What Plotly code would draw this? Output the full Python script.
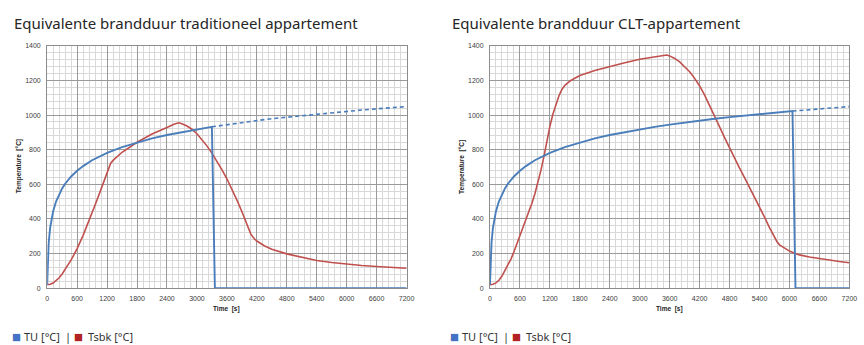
import plotly.graph_objects as go

# ---------------- data ----------------
# Standard fire curve TU [°C] (time in s)
tu_t = [0, 15, 30, 60, 90, 120, 180, 240, 300, 360, 420, 480, 600, 720, 900, 1080, 1200,
        1500, 1800, 2100, 2400, 2700, 3000, 3300, 3600, 3900, 4200, 4500, 4800, 5100,
        5400, 5700, 6000, 6060, 6300, 6600, 6900, 7200]
tu_v = [20, 185, 261, 349, 404, 445, 502, 544, 576, 603, 626, 645, 678, 705, 739, 766, 781,
        815, 842, 865, 885, 902, 918, 932, 945, 957, 968, 979, 988, 997,
        1006, 1014, 1022, 1023, 1029, 1036, 1043, 1049]

# end of the fire (TU drops to zero) per case
tu_end_trad = [3300, 3360]
tu_end_clt = [6060, 6120]

# Tsbk [°C] - traditional apartment
trad_t = [0, 60, 120, 180, 240, 300, 360, 420, 480, 540, 600, 720, 840, 960, 1080, 1200, 1270,
          1320, 1500, 1800, 2100, 2400, 2550, 2640, 2700, 2800, 2900, 3000, 3100, 3200, 3300,
          3400, 3500, 3600, 3700, 3800, 3900, 4000, 4080, 4150, 4200, 4350, 4500, 4800, 5100,
          5400, 5700, 6000, 6300, 6600, 6900, 7200]
trad_v = [20, 22, 29, 42, 60, 82, 107, 134, 163, 195, 228, 305, 390, 480, 572, 663, 720,
          738, 785, 843, 890, 928, 948, 955, 950, 937, 918, 892, 860, 822, 780,
          735, 685, 632, 575, 510, 443, 375, 312, 285, 272, 245, 225, 198, 177,
          160, 148, 138, 131, 125, 120, 115]

# Tsbk [°C] - CLT apartment
clt_t = [0, 60, 120, 180, 240, 300, 360, 420, 480, 540, 600, 660, 720, 780, 840, 900, 960,
         1020, 1080, 1140, 1200, 1260, 1320, 1380, 1440, 1500, 1620, 1800, 2100, 2400, 2700,
         3000, 3300, 3480, 3540, 3600, 3700, 3800, 3900, 4000, 4100, 4200, 4300, 4400, 4500,
         4600, 4700, 4800, 4900, 5000, 5100, 5200, 5300, 5400, 5500, 5600, 5700, 5750, 5800,
         5900, 6000, 6100, 6200, 6400, 6600, 6800, 7000, 7200]
clt_v = [20, 22, 30, 45, 70, 100, 130, 168, 210, 255, 300, 345, 390, 440, 490, 545, 610,
         680, 760, 850, 935, 1005, 1065, 1110, 1148, 1172, 1200, 1228, 1258, 1282, 1302,
         1322, 1338, 1348, 1347, 1342, 1327, 1307, 1281, 1250, 1212, 1168, 1115, 1057, 995,
         932, 870, 808, 750, 693, 638, 583, 525, 470, 410, 350, 295, 268, 250,
         230, 214, 201, 192, 180, 170, 161, 154, 147]

titles = ["Equivalente brandduur traditioneel appartement",
          "Equivalente brandduur CLT-appartement"]
x_ticks = list(range(0, 7201, 600))
y_ticks = list(range(0, 1401, 200))

# ---------------- styling ----------------
W, H = 864, 345
BLUE = "#4A7EBB"
RED = "#C0504D"
LEG_BLUE = "#4472C4"
LEG_RED = "#B22222"
FONT = "Noto Sans"
TICKFONT = "Liberation Sans"

panels = [
    dict(x0=45.7, x1=409.3, title_x=10, tsbk=(trad_t, trad_v), end=tu_end_trad),
    dict(x0=493.7, x1=857.3, title_x=453, tsbk=(clt_t, clt_v), end=tu_end_clt),
]
y_top, y_bot = 42.7, 290.0


def px_note(text, x, y, size, color, family=FONT, **kw):
    """Annotation positioned in pixel coordinates of the page."""
    d = dict(text=text, x=x / W, y=1 - y / H, xref="paper", yref="paper",
             xanchor="left", yanchor="middle", showarrow=False,
             font=dict(family=family, size=size, color=color))
    d.update(kw)
    return d


fig = go.Figure()
annotations = []

for i, p in enumerate(panels):
    xa = "x" if i == 0 else "x2"
    ya = "y" if i == 0 else "y2"
    t_end, t_zero = p["end"]

    # solid TU up to the end of the fire, then down to zero and flat
    solid_t = [t for t in tu_t if t <= t_end]
    solid_v = [v for t, v in zip(tu_t, tu_v) if t <= t_end]
    solid_t += [t_zero, 7200]
    solid_v += [0, 0]
    # dashed continuation of the standard curve
    dash_t = [t for t in tu_t if t >= t_end]
    dash_v = [v for t, v in zip(tu_t, tu_v) if t >= t_end]

    fig.add_trace(go.Scatter(x=dash_t, y=dash_v, mode="lines", xaxis=xa, yaxis=ya,
                             line=dict(color=BLUE, width=1.6, dash="4px,3px"),
                             showlegend=False, hoverinfo="skip"))
    fig.add_trace(go.Scatter(x=p["tsbk"][0], y=p["tsbk"][1], mode="lines", xaxis=xa, yaxis=ya,
                             line=dict(color=RED, width=1.6),
                             name="Tsbk [°C]", showlegend=False))
    fig.add_trace(go.Scatter(x=solid_t, y=solid_v, mode="lines", xaxis=xa, yaxis=ya,
                             line=dict(color=BLUE, width=1.9),
                             name="TU [°C]", showlegend=False))

    # chart title
    annotations.append(px_note(titles[i], p["title_x"], 19, 15, "#262626"))
    # y-axis title
    annotations.append(px_note("<b>Temperature  [°C]</b>", p["x0"] - 29, 166, 6.5, "#222222",
                               family=TICKFONT, textangle=-90, xanchor="center"))
    # x-axis title
    annotations.append(px_note("<b>Time  [s]</b>", (p["x0"] + p["x1"]) / 2, 311, 6.5,
                               "#222222", family=TICKFONT, xanchor="center"))
    # legend line
    lx = p["title_x"]
    annotations.append(px_note("■", lx - 1, 339, 9.5, LEG_BLUE, family="DejaVu Sans",
                               borderpad=0))
    annotations.append(px_note("TU [°C]", lx + 11, 339, 11, "#333333", borderpad=0))
    annotations.append(px_note("|", lx + 53, 339, 11, "#333333", borderpad=0))
    annotations.append(px_note("■", lx + 62, 339, 9.5, LEG_RED, family="DejaVu Sans",
                               borderpad=0))
    annotations.append(px_note("Tsbk [°C]", lx + 76, 339, 11, "#333333", borderpad=0))

    axis_common = dict(showline=True, linecolor="#8c8c8c", linewidth=1, mirror=True,
                       showgrid=True, gridcolor="#9a9a9a", gridwidth=1, zeroline=False,
                       ticks="", tickfont=dict(family=TICKFONT, size=7, color="#404040"))
    xdom = [p["x0"] / W, p["x1"] / W]
    ydom = [1 - y_bot / H, 1 - y_top / H]
    xkey = "xaxis" if i == 0 else "xaxis2"
    ykey = "yaxis" if i == 0 else "yaxis2"
    fig.update_layout(**{
        xkey: dict(axis_common, domain=xdom, range=[0, 7200], tickvals=x_ticks,
                   anchor=ya, ticklabelstandoff=3,
                   minor=dict(dtick=120, tick0=0, showgrid=True,
                              gridcolor="#d9d9d9", gridwidth=1)),
        ykey: dict(axis_common, domain=ydom, range=[0, 1400], tickvals=y_ticks,
                   anchor=xa, ticklabelstandoff=4,
                   minor=dict(dtick=40, tick0=0, showgrid=True,
                              gridcolor="#d9d9d9", gridwidth=1)),
    })

fig.update_layout(width=W, height=H, margin=dict(l=0, r=0, t=0, b=0),
                  paper_bgcolor="white", plot_bgcolor="white",
                  showlegend=False, annotations=annotations)

fig.write_html("out.html")
